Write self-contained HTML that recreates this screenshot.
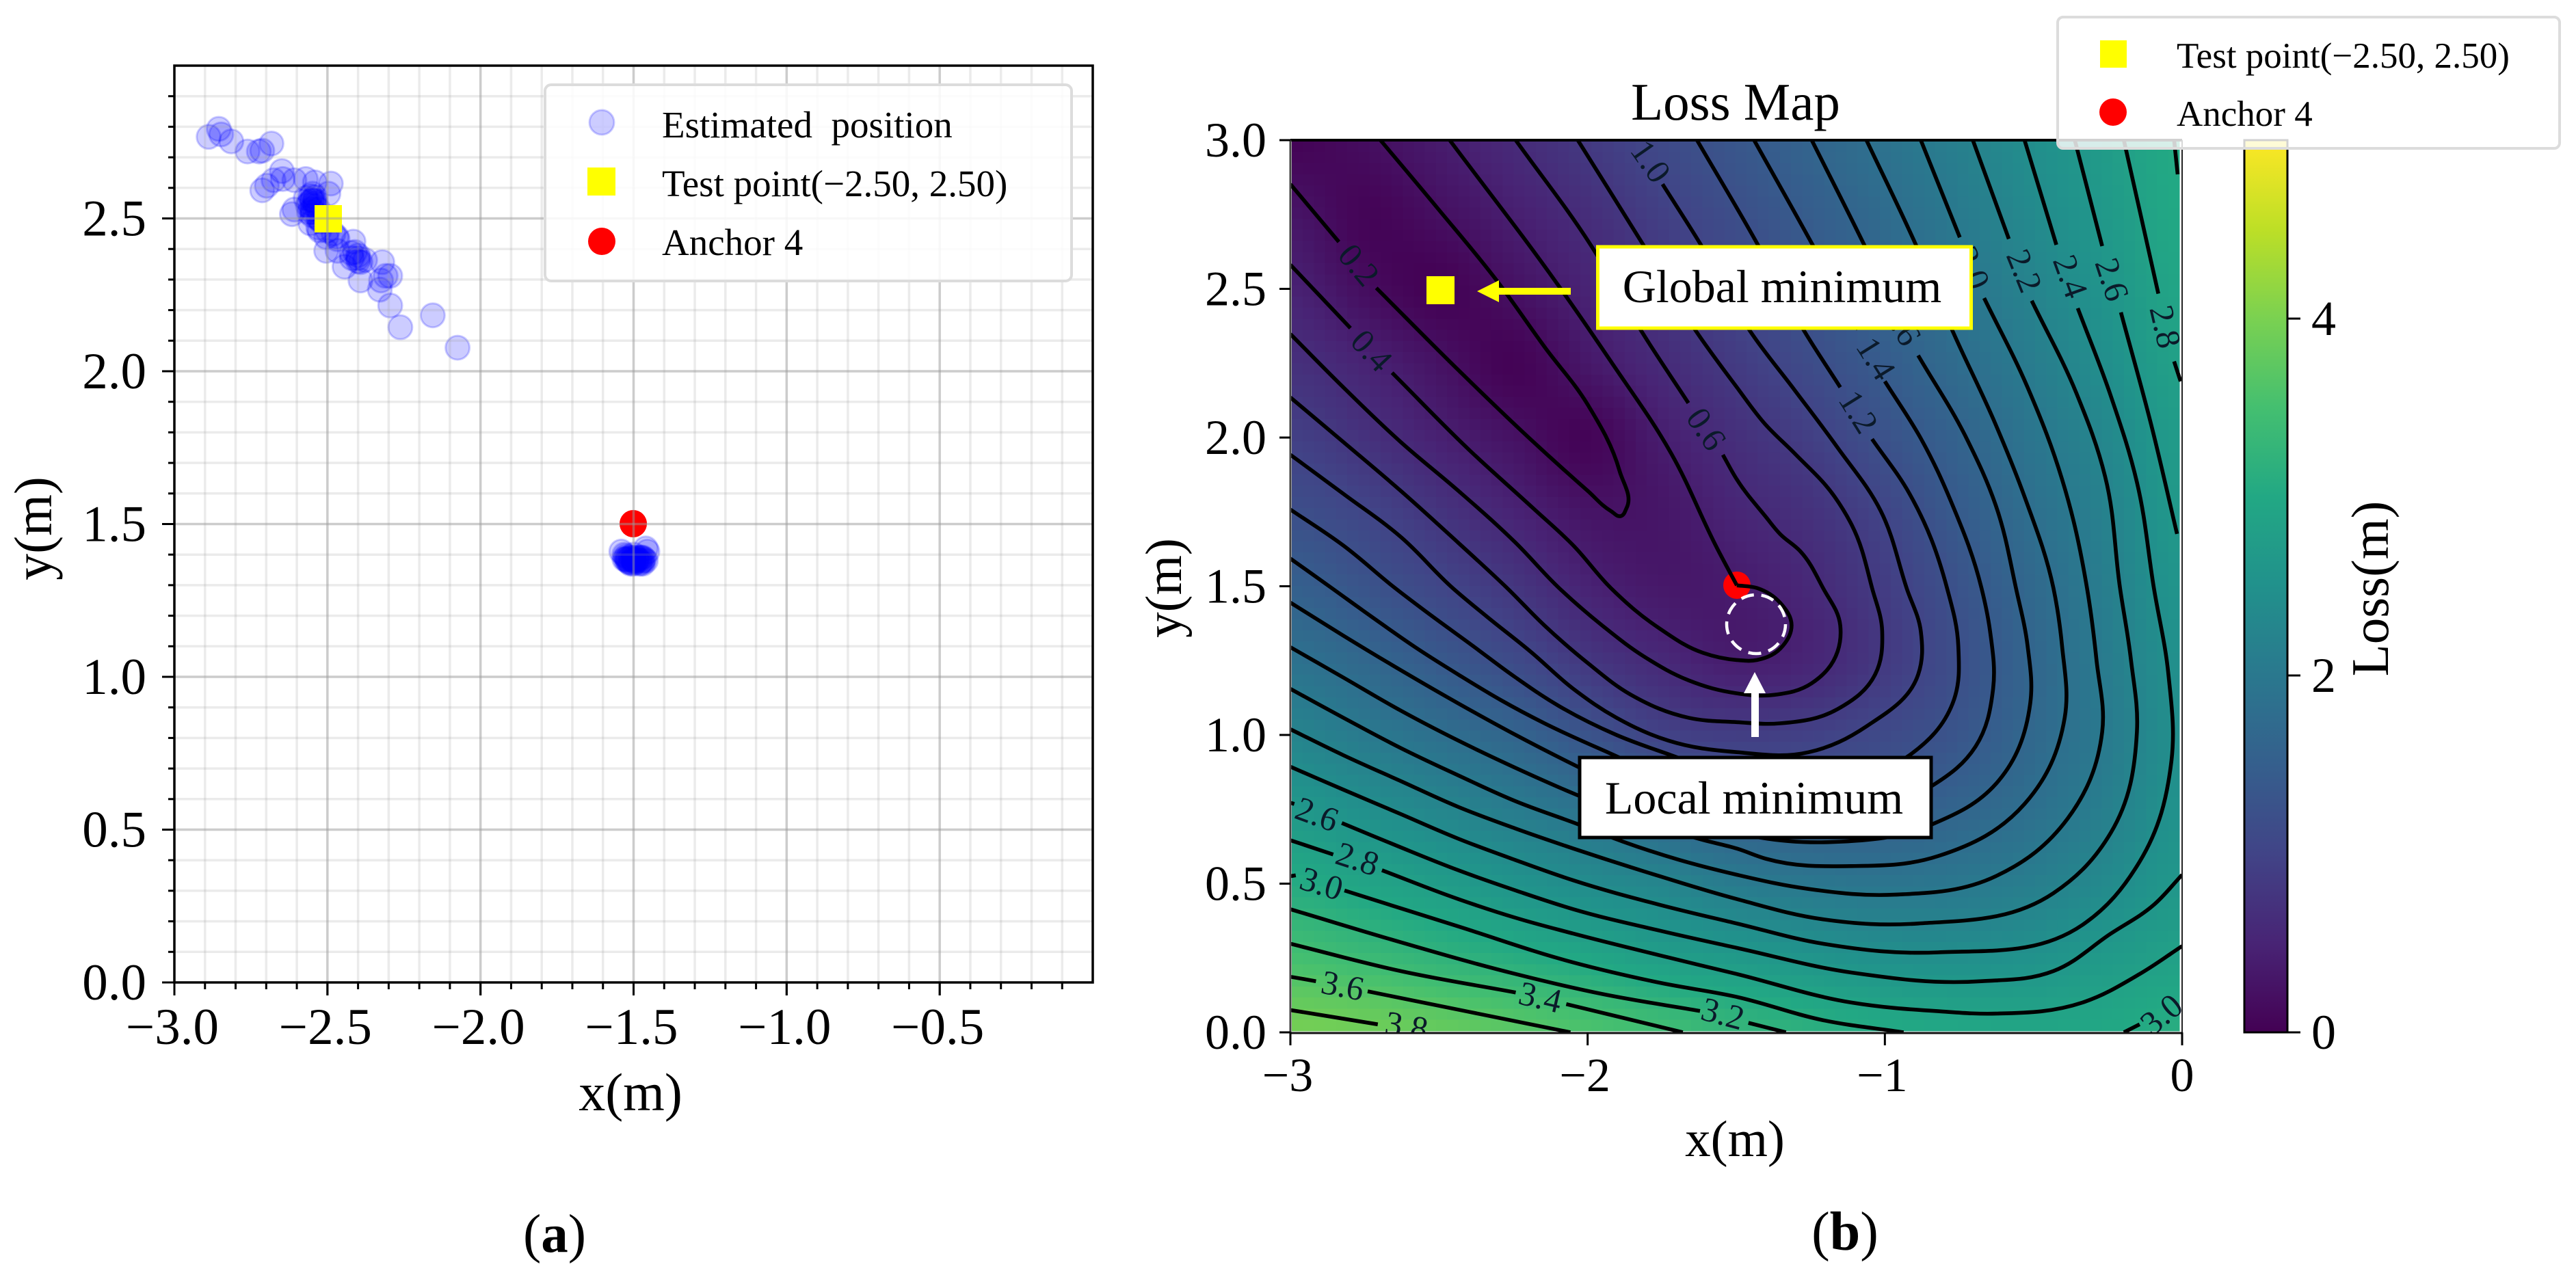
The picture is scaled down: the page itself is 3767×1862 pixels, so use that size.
<!DOCTYPE html>
<html lang="en">
<head>
<meta charset="utf-8">
<title>Estimated positions and loss map</title>
<style>
html,body{margin:0;padding:0;background:#fff;}
svg{display:block;}
text{font-family:"Liberation Serif","Times New Roman",serif;fill:#000;}
</style>
</head>
<body>
<svg id="figure" xmlns="http://www.w3.org/2000/svg" width="3767" height="1862" viewBox="0 0 3767 1862">
  <defs>
    <clipPath id="clip-loss"><rect x="1887" y="205" width="1304" height="1305"/></clipPath>
    <linearGradient id="viridis-gradient" x1="0" y1="1" x2="0" y2="0">
      <stop offset="0" stop-color="#440154"/><stop offset="0.1" stop-color="#482475"/>
      <stop offset="0.2" stop-color="#414487"/><stop offset="0.3" stop-color="#355f8d"/>
      <stop offset="0.4" stop-color="#2a788e"/><stop offset="0.5" stop-color="#21918c"/>
      <stop offset="0.6" stop-color="#22a884"/><stop offset="0.7" stop-color="#44bf70"/>
      <stop offset="0.8" stop-color="#7ad151"/><stop offset="0.9" stop-color="#bddf26"/>
      <stop offset="1" stop-color="#fde725"/>
    </linearGradient>
  </defs>

  <g id="panel-a">
    <g id="a-points"></g>
    <rect x="460" y="300" width="40" height="40" fill="#ffff00"/>
    <circle cx="926" cy="766" r="20" fill="#ff0000"/>
    <g id="a-grid"></g>
    <rect x="255" y="96" width="1343" height="1341" fill="none" stroke="#000" stroke-width="3.5"/>
    <g id="a-ticks"></g>
    <text x="922" y="1624" font-size="78" text-anchor="middle">x(m)</text>
    <text transform="translate(75,773) rotate(-90)" font-size="78" text-anchor="middle">y(m)</text>
    <g>
      <rect x="797" y="124" width="770" height="287" rx="9" fill="#fff" fill-opacity="0.86" stroke="#dcdcdc" stroke-width="4"/>
      <circle cx="880" cy="179" r="18" fill="#0000ff" fill-opacity="0.2" stroke="#0000ff" stroke-opacity="0.2" stroke-width="3"/>
      <text x="968" y="201" font-size="55" xml:space="preserve">Estimated  position</text>
      <rect x="859" y="245" width="41" height="41" fill="#ffff00"/>
      <text x="968" y="287" font-size="55">Test point(−2.50, 2.50)</text>
      <circle cx="880" cy="353" r="20" fill="#ff0000"/>
      <text x="968" y="373" font-size="55">Anchor 4</text>
    </g>
    <text x="811" y="1831" font-size="79" text-anchor="middle">(<tspan font-weight="bold">a</tspan>)</text>
  </g>

  <g id="panel-b">
    <text x="2538" y="175" font-size="77" text-anchor="middle">Loss Map</text>
    <rect x="1887" y="205" width="1304" height="1305" fill="#fff"/>
    <g id="b-heat" shape-rendering="crispEdges"></g>
    <circle cx="2540" cy="856" r="20" fill="#ff0000"/>
    <g id="b-contours" clip-path="url(#clip-loss)"></g>
    <g id="b-contour-labels" clip-path="url(#clip-loss)"></g>
    <rect x="2086" y="404" width="41" height="41" fill="#ffff00"/>
    <circle cx="2568" cy="913" r="43" fill="none" stroke="#fff" stroke-width="4.5" stroke-dasharray="19 11"/>
    <polygon points="2160,426 2192,410 2192,421 2297,421 2297,431 2192,431 2192,442" fill="#ffff00"/>
    <polygon points="2566,983 2582,1014 2572,1014 2572,1078 2561,1078 2561,1014 2550,1014" fill="#fff"/>
    <rect x="2336.5" y="361" width="546" height="119" fill="#fff" stroke="#ffff00" stroke-width="5"/>
    <text x="2606" y="442" font-size="68" text-anchor="middle">Global minimum</text>
    <rect x="2310" y="1108" width="514" height="117" fill="#fff" stroke="#000" stroke-width="5"/>
    <text x="2565" y="1190" font-size="68" text-anchor="middle">Local minimum</text>
    <line x1="1887" y1="205" x2="3191" y2="205" stroke="#000" stroke-width="4"/>
    <line x1="1887" y1="205" x2="1887" y2="1511" stroke="#444" stroke-width="3"/>
    <line x1="3191" y1="205" x2="3191" y2="1511" stroke="#222" stroke-width="2"/>
    <line x1="1887" y1="1511" x2="3191" y2="1511" stroke="#111" stroke-width="3"/>
    <g id="b-ticks"></g>
    <text x="2537" y="1691" font-size="75" text-anchor="middle">x(m)</text>
    <text transform="translate(1727,860) rotate(-90)" font-size="75" text-anchor="middle">y(m)</text>
    <rect x="3282" y="205" width="63" height="1305" fill="url(#viridis-gradient)" stroke="#000" stroke-width="3"/>
    <g id="b-colorbar-ticks"></g>
    <text transform="translate(3492,861) rotate(-90)" font-size="77" text-anchor="middle">Loss(m)</text>
    <g>
      <rect x="3009" y="25" width="734" height="192" rx="8" fill="#fff" fill-opacity="0.82" stroke="#dcdcdc" stroke-width="4"/>
      <rect x="3071" y="59" width="39" height="40" fill="#ffff00"/>
      <text x="3183" y="99" font-size="53">Test point(−2.50, 2.50)</text>
      <circle cx="3090" cy="164" r="20" fill="#ff0000"/>
      <text x="3183" y="184" font-size="53">Anchor 4</text>
    </g>
    <text x="2698" y="1828" font-size="80" text-anchor="middle">(<tspan font-weight="bold">b</tspan>)</text>
  </g>
</svg>

<script>
// ----- Panel (a) data -----
const estimatedX = [-2.888,-2.855,-2.847,-2.814,-2.761,-2.724,-2.713,-2.683,-2.649,-2.713,-2.698,-2.676,-2.646,-2.608,-2.571,-2.541,-2.489,-2.497,-2.549,-2.571,-2.541,-2.564,-2.556,-2.616,-2.608,-2.549,-2.526,-2.497,-2.556,-2.526,-2.504,-2.467,-2.415,-2.504,-2.467,-2.444,-2.422,-2.400,-2.392,-2.377,-2.392,-2.321,-2.325,-2.310,-2.295,-2.329,-2.295,-2.262,-2.156,-2.075,-2.55,-2.56,-2.54,-2.55,-2.54,-2.56,-2.53,-2.53,-2.50,-2.48,-2.41,-2.42,-2.55,-2.54,-2.53,-2.55,-2.52,-2.47,-2.40,-2.40,
  -1.53,-1.52,-1.52,-1.51,-1.51,-1.50,-1.50,-1.50,-1.49,-1.49,-1.48,-1.48,-1.47,-1.47,-1.46,-1.46,-1.455,-1.54,-1.525,-1.505,-1.495,-1.485,-1.515,-1.475,-1.525,-1.52,-1.515,-1.51,-1.49,-1.48,-1.475,-1.47,-1.465,-1.53,-1.5,-1.5];
const estimatedY = [2.767,2.793,2.775,2.752,2.719,2.719,2.722,2.745,2.655,2.592,2.607,2.625,2.629,2.625,2.629,2.618,2.614,2.581,2.581,2.566,2.558,2.543,2.573,2.514,2.529,2.521,2.499,2.499,2.484,2.461,2.439,2.432,2.424,2.394,2.394,2.342,2.387,2.379,2.357,2.364,2.297,2.357,2.297,2.312,2.312,2.267,2.215,2.144,2.183,2.077,2.56,2.55,2.54,2.53,2.57,2.52,2.50,2.47,2.46,2.45,2.39,2.37,2.56,2.55,2.53,2.51,2.49,2.44,2.37,2.36,
  1.40,1.39,1.38,1.39,1.37,1.40,1.38,1.37,1.39,1.38,1.37,1.39,1.38,1.39,1.38,1.42,1.41,1.41,1.385,1.385,1.375,1.385,1.375,1.375,1.395,1.385,1.385,1.375,1.385,1.38,1.39,1.37,1.385,1.385,1.39,1.38];
const panelAXTicks = [-3.0,-2.5,-2.0,-1.5,-1.0,-0.5];
const panelAXTickLabels = ['−3.0','−2.5','−2.0','−1.5','−1.0','−0.5'];
const panelAYTicks = [0.0,0.5,1.0,1.5,2.0,2.5];
const panelAYTickLabels = ['0.0','0.5','1.0','1.5','2.0','2.5'];

// ----- Panel (b) data -----
const lossX = [-3,-2.75,-2.5,-2.25,-2,-1.75,-1.5,-1.25,-1,-0.75,-0.5,-0.25,0];
const lossY = [3,2.75,2.5,2.25,2,1.75,1.5,1.25,1,0.75,0.5,0.25,0];
const lossGrid = [
  [.03,.17,.37,.59,.83,1.09,1.34,1.6,1.87,2.14,2.44,2.73,3.03],
  [.28,.05,.2,.42,.65,.93,1.19,1.46,1.74,2.03,2.35,2.66,3.0],
  [.47,.17,.02,.23,.49,.77,1.04,1.31,1.6,1.91,2.22,2.57,2.92],
  [.69,.48,.24,.03,.32,.6,.86,1.14,1.44,1.76,2.08,2.45,2.83],
  [.94,.71,.45,.24,.05,.4,.67,.92,1.25,1.57,1.94,2.3,2.72],
  [1.2,1.02,.75,.49,.27,.3,.52,.71,1.02,1.42,1.81,2.19,2.66],
  [1.52,1.29,1.04,.78,.48,.33,.38,.57,.88,1.27,1.69,2.12,2.57],
  [1.87,1.66,1.39,1.12,.8,.57,.4,.52,.83,1.2,1.63,2.07,2.48],
  [2.23,2.03,1.82,1.61,1.28,.98,.89,.95,1.1,1.32,1.68,2.04,2.46],
  [2.64,2.46,2.27,2.07,1.88,1.6,1.44,1.4,1.45,1.61,1.83,2.14,2.52],
  [3.05,2.9,2.74,2.55,2.38,2.25,2.05,1.97,1.93,1.98,2.12,2.36,2.63],
  [3.49,3.37,3.23,3.09,2.95,2.77,2.67,2.56,2.47,2.45,2.52,2.68,2.83],
  [3.95,3.9,3.81,3.7,3.57,3.44,3.28,3.16,3.03,2.97,2.93,2.98,3.1]
];
const viridisStops = ['#440154','#482475','#414487','#355f8d','#2a788e','#21918c','#22a884','#44bf70','#7ad151','#bddf26','#fde725'];

const contour02 = [
  [[-3,2.852],[-2.837,2.658]],
  [[-2.711,2.503],[-2.435,2.227],[-2.193,1.995],[-2.0,1.821],[-1.922,1.753],[-1.888,1.736],[-1.869,1.763],[-1.893,1.889],[-2.0,2.111],[-2.145,2.305],[-2.309,2.532],[-2.503,2.769],[-2.697,3.0]]
];
const contour04 = [
  [[-3,2.581],[-2.798,2.368]],
  [[-2.658,2.218],[-2.396,1.956],[-2.184,1.763],[-2.048,1.637],[-1.922,1.494],[-1.758,1.358],[-1.612,1.276],[-1.498,1.252],[-1.430,1.252],[-1.343,1.300],[-1.314,1.368],[-1.353,1.445],[-1.430,1.494],[-1.498,1.503]],
  [[-1.498,1.503],[-1.564,1.627],[-1.719,1.947],[-1.922,2.256],[-2.096,2.508],[-2.464,3.0]]
];
const contour06 = [
  [[-3,2.348],[-2.822,2.169],[-2.629,1.985],[-2.435,1.821],[-2.242,1.646],[-2.096,1.494],[-1.951,1.368],[-1.806,1.261],[-1.661,1.184],[-1.498,1.140],[-1.372,1.135],[-1.246,1.174],[-1.159,1.281],[-1.150,1.368],[-1.208,1.494],[-1.285,1.618],[-1.353,1.676],[-1.401,1.734],[-1.498,1.859],[-1.545,1.942]],
  [[-1.661,2.116],[-1.816,2.353],[-1.990,2.648],[-2.242,3.0]]
];
const contour08 = [
  [[-3,2.135],[-2.822,1.985],[-2.629,1.821],[-2.435,1.646],[-2.271,1.494],[-2.145,1.368],[-2.0,1.242],[-1.854,1.135],[-1.661,1.058],[-1.498,1.043],[-1.353,1.039],[-1.159,1.087],[-1.033,1.203],[-1.009,1.348],[-1.043,1.494],[-1.111,1.705],[-1.169,1.801],[-1.304,1.947],[-1.401,2.043],[-1.498,2.169],[-1.632,2.353],[-1.816,2.653],[-2.033,3.0]]
];
const contour10 = [
  [[-3,1.942],[-2.822,1.811],[-2.629,1.666],[-2.454,1.494],[-2.338,1.397],[-2.193,1.281],[-2.048,1.155],[-1.903,1.058],[-1.728,0.981],[-1.498,0.942],[-1.256,0.942],[-1.062,1.029],[-.888,1.203],[-.879,1.348],[-.927,1.494],[-1.014,1.753],[-1.159,1.966],[-1.304,2.160],[-1.450,2.353],[-1.622,2.653],[-1.748,2.852]]
];
const contour12 = [
  [[-3,1.758],[-2.822,1.637],[-2.648,1.494],[-2.532,1.406],[-2.387,1.300],[-2.242,1.193],[-2.096,1.097],[-1.903,1.000],[-1.719,.932],[-1.467,.848],[-1.225,.848],[-.917,.932],[-.772,1.106],[-.753,1.300],[-.791,1.494],[-.917,1.811],[-1.043,1.995]],
  [[-1.150,2.169],[-1.271,2.358],[-1.430,2.653],[-1.632,3.0]]
];
const contour14 = [
  [[-3,1.593],[-2.861,1.494],[-2.726,1.397],[-2.580,1.295],[-2.435,1.203],[-2.290,1.116],[-2.145,1.039],[-1.922,.937],[-1.564,.785],[-1.177,.746],[-.840,.830],[-.695,.961],[-.636,1.155],[-.646,1.348],[-.675,1.494],[-.772,1.772],[-.878,1.995],[-1.0,2.189]],
  [[-1.090,2.363],[-1.246,2.653],[-1.440,3.0]]
];
const contour16 = [
  [[-3,1.445],[-2.822,1.334],[-2.629,1.218],[-2.435,1.106],[-2.242,1.0],[-2.033,.893],[-1.661,.717],[-1.177,.640],[-.840,.700],[-.627,.835],[-.511,1.106],[-.520,1.300],[-.559,1.494],[-.627,1.772],[-.724,1.995],[-.888,2.276]],
  [[-.983,2.469],[-1.072,2.653],[-1.246,3.0]]
];
const contour18 = [
  [[-3,1.295],[-2.822,1.193],[-2.629,1.082],[-2.435,.981],[-2.242,.889],[-2.033,.797],[-1.612,.647],[-1.498,.618],[-1.401,.584],[-1.111,.559],[-.820,.593],[-.530,.768],[-.395,1.058],[-.404,1.300],[-.433,1.494],[-.530,1.801],[-.627,2.043],[-.772,2.358],[-.898,2.653],[-1.062,3.0]]
];
const contour20 = [
  [[-3,1.155],[-2.822,1.058],[-2.629,.956],[-2.435,.864],[-2.242,.777],[-2.033,.700],[-1.883,.642],[-1.498,.530],[-1.256,.482],[-.966,.463],[-.627,.525],[-.385,.719],[-.269,1.010],[-.288,1.252],[-.320,1.494],[-.404,1.860],[-.520,2.169],[-.666,2.469]],
  [[-.748,2.673],[-.879,3.0]]
];
const contour22 = [
  [[-3,1.019],[-2.822,.932],[-2.629,.845],[-2.435,.758],[-2.242,.685],[-2.048,.618],[-1.758,.525],[-1.498,.448],[-1.208,.380],[-.888,.366],[-.433,.468],[-.240,.671],[-.152,1.010],[-.172,1.252],[-.209,1.494],[-.259,1.869],[-.356,2.150],[-.506,2.460]],
  [[-.583,2.668],[-.704,3.0]]
];
const contour24 = [
  [[-3,.893],[-2.822,.816],[-2.629,.734],[-2.435,.651],[-2.242,.579],[-2.048,.511],[-1.758,.429],[-1.498,.366],[-1.208,.298],[-.820,.269],[-.336,.361],[-.143,.574],[-.036,.913],[-.046,1.203],[-.095,1.494],[-.152,1.850],[-.240,2.140],[-.351,2.435]],
  [[-.423,2.648],[-.530,3.0]]
];
const contour26 = [
  [[-3,.772],[-2.987,.768]],
  [[-2.827,.704],[-2.629,.622],[-2.435,.545],[-2.242,.477],[-2.048,.414],[-1.758,.342],[-1.498,.284],[-1.111,.201],[-.675,.172],[-.433,.206],[-.240,.332],[-.095,.429],[0,.53]],
  [[-.361,3.0],[-.269,2.644]],
  [[-.206,2.421],[-.104,2.043],[-.017,1.676]]
];
const contour28 = [
  [[-3,.646],[-2.856,.598]],
  [[-2.692,.545],[-2.435,.448],[-2.242,.385],[-2.048,.332],[-1.758,.259],[-1.498,.196],[-1.111,.100],[-.820,.071],[-.627,.063],[-.336,.100],[-.143,.196],[0,.29]],
  [[-.196,3.0],[-.080,2.484]],
  [[-.027,2.256],[-.005,2.189]]
];
const contour30 = [
  [[-3,.525],[-2.982,.528]],
  [[-2.818,.477],[-2.435,.356],[-2.048,.235],[-1.758,.167],[-1.498,.119],[-1.208,.041],[-.937,0]],
  [[-.196,0],[-.143,.027]],
  [[-.027,3.0],[-.015,2.885]]
];
const contour32 = [
  [[-3,.414],[-2.629,.303],[-2.242,.196],[-1.951,.129],[-1.622,.072]],
  [[-1.459,.032],[-1.333,0]]
];
const contour34 = [
  [[-3,.298],[-2.629,.206],[-2.242,.134]],
  [[-2.072,.095],[-1.680,0]]
];
const contour36 = [
  [[-3,.187],[-2.914,.172]],
  [[-2.740,.138],[-2.058,0]]
];
const contour38 = [
  [[-3,.075],[-2.706,.027]]
];
const contourSets = [contour02,contour04,contour06,contour08,contour10,contour12,contour14,contour16,contour18,contour20,contour22,contour24,contour26,contour28,contour30,contour32,contour34,contour36,contour38];

const contourLabelTexts = ['0.2','0.4','0.6','1.0','1.2','1.4','1.6','2.0','2.2','2.4','2.6','2.8','2.6','2.8','3.0','3.2','3.4','3.6','3.8','3.0'];
const contourLabelX = [-2.769,-2.726,-1.600,-1.787,-1.088,-1.029,-.942,-.706,-.530,-.375,-.235,-.056,-2.910,-2.774,-2.895,-1.545,-2.159,-2.824,-2.609,-.070];
const contourLabelY = [2.581,2.293,2.029,2.929,2.087,2.266,2.382,2.571,2.561,2.542,2.532,2.373,.734,.584,.501,.064,.119,.158,.022,.061];
const contourLabelAngle = [50,47,56,55,58,58,60,68,68,70,72,77,20,18,17,15,13,11,10,-40];

const lossXTicks = [-3,-2,-1,0];
const lossXTickLabels = ['−3','−2','−1','0'];
const lossYTicks = [0,0.5,1,1.5,2,2.5,3];
const lossYTickLabels = ['0.0','0.5','1.0','1.5','2.0','2.5','3.0'];
const colorbarTicks = [0,2,4];
const colorbarTickLabels = ['0','2','4'];

// ----- Axis functions -----
const NS = 'http://www.w3.org/2000/svg';
const ax = v => 255 + (v + 3) * 447.67;
const ay = v => 1437 - v * 447;
const bx = v => 1887 + (v + 3) * 434.67;
const by = v => 1510 - v * 435;
const cy = v => 1510 - v * 261;

function makeNode(tag, parent, props) {
  const el = document.createElementNS(NS, tag);
  for (const k in props) el.setAttribute(k, props[k]);
  parent.appendChild(el);
  return el;
}

// ----- Panel (a) marks -----
const aPoints = document.getElementById('a-points');
estimatedX.forEach((x, i) => {
  const el = makeNode('circle', aPoints, {cx: ax(x), cy: ay(estimatedY[i]), r: 17.5, fill: '#0000ff', 'fill-opacity': 0.2, stroke: '#0000ff', 'stroke-opacity': 0.2, 'stroke-width': 3});
  
  
});

const aGrid = document.getElementById('a-grid');
const aTicks = document.getElementById('a-ticks');
for (let i = 1; i < 30; i++) {
  const v = -3 + i * 0.1;
  const major = i % 5 === 0;
  const g = makeNode('line', aGrid, {x1: ax(v), x2: ax(v), y1: 96, y2: 1437, stroke: '#999', 'stroke-opacity': major ? 0.5 : 0.2, 'stroke-width': 3.5});
  
  
  const t = makeNode('line', aTicks, {x1: ax(v), x2: ax(v), y1: 1437, y2: major ? 1456 : 1447, stroke: '#000', 'stroke-width': 3});
  
  
  const h = makeNode('line', aGrid, {y1: ay(i * 0.1), y2: ay(i * 0.1), x1: 255, x2: 1598, stroke: '#999', 'stroke-opacity': major ? 0.5 : 0.2, 'stroke-width': 3.5});
  
  
  const u = makeNode('line', aTicks, {y1: ay(i * 0.1), y2: ay(i * 0.1), x1: 255, x2: major ? 237 : 246, stroke: '#000', 'stroke-width': 3});
  
  
}
panelAXTicks.forEach((v, i) => {
  const t = makeNode('line', aTicks, {x1: ax(v), x2: ax(v), y1: 1437, y2: 1456, stroke: '#000', 'stroke-width': 3});
  
  
  const el = makeNode('text', aTicks, {x: ax(v) - 3, y: 1527, 'font-size': 75, 'text-anchor': 'middle'});
  el.textContent = panelAXTickLabels[i];
  
  
});
panelAYTicks.forEach((v, i) => {
  const t = makeNode('line', aTicks, {y1: ay(v), y2: ay(v), x1: 255, x2: 237, stroke: '#000', 'stroke-width': 3});
  
  
  const el = makeNode('text', aTicks, {x: 214, y: ay(v) + 25, 'font-size': 75, 'text-anchor': 'end'});
  el.textContent = panelAYTickLabels[i];
  
  
});

// ----- Panel (b) heatmap -----
function viridis(t) {
  const p = Math.max(0, Math.min(1, t)) * (viridisStops.length - 1);
  const i = Math.min(viridisStops.length - 2, Math.floor(p));
  const f = p - i;
  const parse = h => [1, 3, 5].map(k => parseInt(h.substr(k, 2), 16));
  const a = parse(viridisStops[i]);
  const b = parse(viridisStops[i + 1]);
  return 'rgb(' + a.map((c, k) => Math.round(c + (b[k] - c) * f)).join(',') + ')';
}
function cubicWeights(t) {
  return [-0.5 * t * t * t + t * t - 0.5 * t, 1.5 * t * t * t - 2.5 * t * t + 1, -1.5 * t * t * t + 2 * t * t + 0.5 * t, 0.5 * t * t * t - 0.5 * t * t];
}
function lossAt(x, y) {
  const fx = (x - lossX[0]) / (lossX[1] - lossX[0]);
  const fy = (lossY[0] - y) / (lossY[0] - lossY[1]);
  const i = Math.max(0, Math.min(lossX.length - 2, Math.floor(fx)));
  const j = Math.max(0, Math.min(lossY.length - 2, Math.floor(fy)));
  const wx = cubicWeights(fx - i);
  const wy = cubicWeights(fy - j);
  let sum = 0;
  for (let a = 0; a < 4; a++) {
    for (let b = 0; b < 4; b++) {
      const row = Math.max(0, Math.min(lossY.length - 1, j - 1 + a));
      const col = Math.max(0, Math.min(lossX.length - 1, i - 1 + b));
      sum += wy[a] * wx[b] * lossGrid[row][col];
    }
  }
  return Math.max(0, sum);
}
const heat = document.getElementById('b-heat');
const heatCols = 80;
const heatRows = 80;
const heatLeft = bx(-3) + 2;
const heatRight = bx(0) - 4;
const heatTop = by(3) + 1;
const heatBottom = by(0) - 2;
const heatW = (heatRight - heatLeft) / heatCols;
const heatH = (heatBottom - heatTop) / heatRows;
for (let r = 0; r < heatRows; r++) {
  for (let c = 0; c < heatCols; c++) {
    const vx = lossX[0] + (lossX[lossX.length - 1] - lossX[0]) * (c + 0.5) / heatCols;
    const vy = lossY[0] + (lossY[lossY.length - 1] - lossY[0]) * (r + 0.5) / heatRows;
    const el = makeNode('rect', heat, {x: heatLeft + c * heatW, y: heatTop + r * heatH, width: heatW + 0.6, height: heatH + 0.6, fill: viridis(lossAt(vx, vy) / 5)});
    
    
  }
}

// ----- Panel (b) contours -----
function smoothPath(points) {
  const p = points.map(q => [bx(q[0]), by(q[1])]);
  const dist = (a, b) => Math.hypot(b[0] - a[0], b[1] - a[1]) || 1;
  const tangents = p.map((q, i) => {
    const prev = p[Math.max(0, i - 1)];
    const next = p[Math.min(p.length - 1, i + 1)];
    const d1 = dist(prev, q);
    const d2 = dist(q, next);
    const ux = (q[0] - prev[0]) / d1;
    const uy = (q[1] - prev[1]) / d1;
    const vx = (next[0] - q[0]) / d2;
    const vy = (next[1] - q[1]) / d2;
    const tx = ux * d2 + vx * d1;
    const ty = uy * d2 + vy * d1;
    const len = Math.hypot(tx, ty) || 1;
    return [tx / len, ty / len];
  });
  let d = 'M' + p[0][0].toFixed(1) + ' ' + p[0][1].toFixed(1);
  for (let i = 0; i < p.length - 1; i++) {
    const h = dist(p[i], p[i + 1]) * 0.36;
    const c1x = p[i][0] + tangents[i][0] * h;
    const c1y = p[i][1] + tangents[i][1] * h;
    const c2x = p[i + 1][0] - tangents[i + 1][0] * h;
    const c2y = p[i + 1][1] - tangents[i + 1][1] * h;
    d += 'C' + c1x.toFixed(1) + ' ' + c1y.toFixed(1) + ' ' + c2x.toFixed(1) + ' ' + c2y.toFixed(1) + ' ' + p[i + 1][0].toFixed(1) + ' ' + p[i + 1][1].toFixed(1);
  }
  return d;
}
const contourGroup = document.getElementById('b-contours');
contourSets.forEach(set => {
  set.forEach(seg => {
    const el = makeNode('path', contourGroup, {d: smoothPath(seg), fill: 'none', stroke: '#000', 'stroke-width': 5.6, 'stroke-linecap': 'butt', 'stroke-linejoin': 'round'});
    
    
  });
});
const labelGroup = document.getElementById('b-contour-labels');
contourLabelTexts.forEach((txt, i) => {
  const px = bx(contourLabelX[i]);
  const py = by(contourLabelY[i]);
  const el = makeNode('text', labelGroup, {x: px, y: py, 'font-size': 50, 'text-anchor': 'middle', 'dominant-baseline': 'central', transform: 'rotate(' + contourLabelAngle[i] + ' ' + px + ' ' + py + ')', style: 'fill:#0b1a2a'});
  el.textContent = txt;
  
  
});

// ----- Panel (b) ticks -----
const bTicks = document.getElementById('b-ticks');
lossXTicks.forEach((v, i) => {
  const t = makeNode('line', bTicks, {x1: bx(v), x2: bx(v), y1: 1510, y2: 1529, stroke: '#000', 'stroke-width': 3});
  
  
  const el = makeNode('text', bTicks, {x: bx(v) - (v < 0 ? 4 : 0), y: 1596, 'font-size': 70, 'text-anchor': 'middle'});
  el.textContent = lossXTickLabels[i];
  
  
});
lossYTicks.forEach((v, i) => {
  const t = makeNode('line', bTicks, {y1: by(v), y2: by(v), x1: 1887, x2: 1871, stroke: '#000', 'stroke-width': 3});
  
  
  const el = makeNode('text', bTicks, {x: 1852, y: by(v) + 24, 'font-size': 72, 'text-anchor': 'end'});
  el.textContent = lossYTickLabels[i];
  
  
});
const cTicks = document.getElementById('b-colorbar-ticks');
colorbarTicks.forEach((v, i) => {
  const t = makeNode('line', cTicks, {y1: cy(v), y2: cy(v), x1: 3345, x2: 3364, stroke: '#000', 'stroke-width': 3});
  
  
  const el = makeNode('text', cTicks, {x: 3380, y: cy(v) + 24, 'font-size': 72});
  el.textContent = colorbarTickLabels[i];
  
  
});
</script>
</body>
</html>
